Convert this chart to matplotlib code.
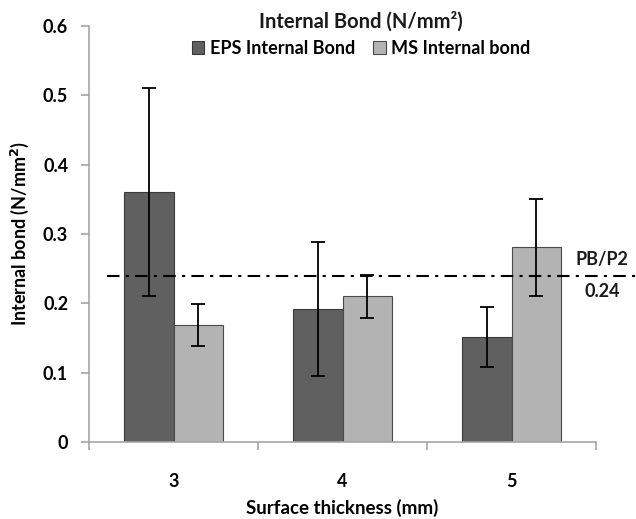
import numpy as np
import matplotlib
matplotlib.use("Agg")
import matplotlib.pyplot as plt

plt.rcParams['font.family'] = ['Lato', 'DejaVu Sans']
plt.rcParams['font.weight'] = 'bold'

# data
thickness = ["3", "4", "5"]
eps_bond = [0.36, 0.192, 0.151]
eps_err = [0.15, 0.097, 0.043]
ms_bond = [0.169, 0.21, 0.281]
ms_err = [0.03, 0.031, 0.07]
pb_p2 = 0.24

x = np.arange(len(thickness))
w = 0.29

fig = plt.figure(figsize=(6.36, 5.19), dpi=100)
ax = fig.add_axes([89/636, 1 - 442/519, (596 - 89)/636, (442 - 26)/519])

ax.bar(x - w/2, eps_bond, w, color='#606060', edgecolor='#3a3a3a', linewidth=0.8,
       label='EPS Internal Bond', zorder=2)
ax.bar(x + w/2, ms_bond, w, color='#b3b3b3', edgecolor='#4a4a4a', linewidth=0.8,
       label='MS Internal bond', zorder=2)
ax.errorbar(x - w/2, eps_bond, yerr=eps_err, fmt='none', ecolor='black',
            elinewidth=1.3, capsize=5, capthick=1.3, zorder=3)
ax.errorbar(x + w/2, ms_bond, yerr=ms_err, fmt='none', ecolor='black',
            elinewidth=1.3, capsize=5, capthick=1.3, zorder=3)

# reference line PB/P2
ax.plot([-0.394, 2.74], [pb_p2, pb_p2], color='black', linestyle=(0, (6, 3, 1.5, 3)),
        linewidth=1.5, clip_on=False, zorder=4)
ax.text(2.535, pb_p2 + 0.011, "PB/P2", ha='center', va='bottom', fontsize=13,
        fontweight='bold', color='#1a1a1a')
ax.text(2.535, pb_p2 - 0.011, "0.24", ha='center', va='top', fontsize=13,
        fontweight='bold', color='#1a1a1a')

ax.set_xlim(-0.5, 2.5)
ax.set_ylim(0, 0.6)
ax.set_yticks(np.arange(0, 0.61, 0.1))
ax.set_yticklabels(["0", "0.1", "0.2", "0.3", "0.4", "0.5", "0.6"])
ax.set_xticks(x)
ax.set_xticklabels(thickness)
ax.set_xticks([-0.5, 0.5, 1.5, 2.5], minor=True)
ax.tick_params(axis='x', which='major', length=0, pad=22, labelsize=13)
ax.tick_params(axis='x', which='minor', length=6, color='#a6a6a6', width=1.2)
ax.tick_params(axis='y', length=6, color='#a6a6a6', width=1.2, pad=9, labelsize=13)

for s in ['top', 'right']:
    ax.spines[s].set_visible(False)
for s in ['left', 'bottom']:
    ax.spines[s].set_color('#a6a6a6')
    ax.spines[s].set_linewidth(1.2)

ax.set_xlabel("Surface thickness (mm)", fontsize=13.5, fontweight='bold')
ax.set_ylabel("Internal bond (N/mm$^\\mathbf{2}$)", fontsize=13, fontweight='bold')
ax.xaxis.set_label_coords(0.5, (442 - 508) / 416)
ax.yaxis.set_label_coords((20 - 89) / 507, 0.5)
ax.xaxis.label.set_va('center')
ax.yaxis.label.set_va('center')

fig.text(361/636, 1 - 22/519, "Internal Bond (N/mm²)", ha='center', va='center',
         fontsize=14.5, fontweight='bold', color='#1a1a1a')
fig.legend(loc='center', bbox_to_anchor=(361/636, 1 - 48/519), ncol=2, frameon=False,
           fontsize=13, handlelength=0.7, handleheight=0.7, handletextpad=0.3,
           columnspacing=1.0)

fig.savefig("out.png", dpi=100)
